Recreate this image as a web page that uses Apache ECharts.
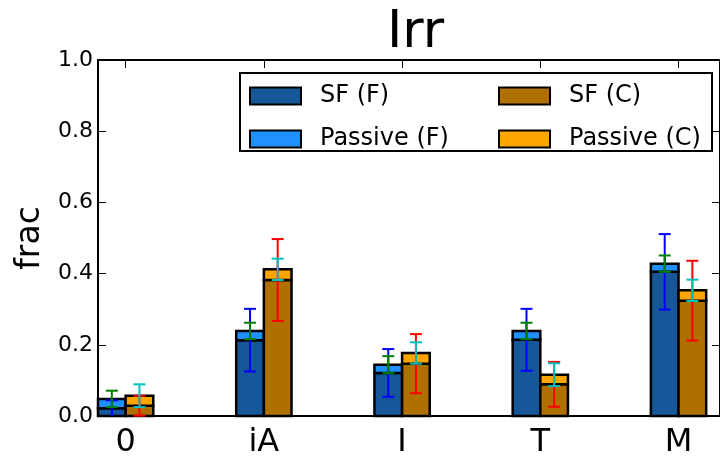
<!DOCTYPE html>
<html>
<head>
<meta charset="utf-8">
<script src="https://cdn.jsdelivr.net/npm/echarts@6/dist/echarts.min.js"></script>
<style>html,body{margin:0;padding:0;background:#fff}#c{width:720px;height:459px}</style>
</head>
<body>
<div id="c"></div>
<script>
const categories = ['0', 'iA', 'I', 'T', 'M'];
const sfF = [0.022, 0.213, 0.121, 0.214, 0.405];
const passiveF = [0.026, 0.026, 0.023, 0.025, 0.023];
const sfC = [0.029, 0.382, 0.147, 0.089, 0.324];
const passiveC = [0.028, 0.030, 0.030, 0.027, 0.029];
const errSfF = [0.022, 0.088, 0.067, 0.087, 0.106];
const errPassiveF = [0.023, 0.023, 0.024, 0.023, 0.023];
const errSfC = [0.028, 0.115, 0.083, 0.063, 0.112];
const errPassiveC = [0.032, 0.030, 0.030, 0.032, 0.030];
const yTicks = [0, 0.2, 0.4, 0.6, 0.8, 1.0];

const FONT = 'DejaVu Sans';
const colors = {sfF: '#155799', pF: '#1E90FF', sfC: '#B07000', pC: '#FFA500'};
const BW = 0.2;

function barSeries(name, vals, bases, off, color) {
  return {
    type: 'custom', name: name, xAxisIndex: 0, yAxisIndex: 0, z: 2,
    itemStyle: {color: color},
    data: vals.map((v, i) => [i, v, bases ? bases[i] : 0]),
    renderItem: function (params, api) {
      const x = api.value(0), v = api.value(1), b = api.value(2);
      const p1 = api.coord([x + off, b + v]);
      const p0 = api.coord([x + off + BW, b]);
      return {type: 'rect', shape: {x: p1[0], y: p1[1], width: p0[0] - p1[0], height: p0[1] - p1[1]},
        style: {fill: color, stroke: '#000', lineWidth: 2.5}};
    }
  };
}
function errSeries(centers, errs, off, color, z) {
  return {
    type: 'custom', xAxisIndex: 0, yAxisIndex: 0, z: z, silent: true,
    data: centers.map((c, i) => [i, c, errs[i]]),
    renderItem: function (params, api) {
      const x = api.value(0) + off, c = api.value(1), e = api.value(2);
      const top = api.coord([x, c + e]);
      const bot = api.coord([x, Math.max(0, c - e)]);
      const cw = 6;
      const st = {stroke: color, lineWidth: 2};
      const children = [
        {type: 'line', shape: {x1: top[0], y1: top[1], x2: bot[0], y2: bot[1]}, style: st},
        {type: 'line', shape: {x1: top[0] - cw, y1: top[1], x2: top[0] + cw, y2: top[1]}, style: st}
      ];
      if (c - e > 0) children.push({type: 'line', shape: {x1: bot[0] - cw, y1: bot[1], x2: bot[0] + cw, y2: bot[1]}, style: st});
      return {type: 'group', children: children};
    }
  };
}
const totF = sfF.map((v, i) => v + passiveF[i]);
const totC = sfC.map((v, i) => v + passiveC[i]);

const axisLineStyle = {show: true, onZero: false, lineStyle: {color: '#000', width: 2}};
const chart = echarts.init(document.getElementById('c'), null, {renderer: 'canvas'});
chart.setOption({
  animation: false,
  backgroundColor: '#fff',
  title: {text: 'Irr', left: 382, top: 2, textStyle: {fontFamily: FONT, fontSize: 52, fontWeight: 'normal', color: '#000'}},
  grid: {left: 98, top: 60, width: 625, height: 361, containLabel: false},
  xAxis: [
    {type: 'value', min: -0.2, max: 4.3, position: 'bottom',
     axisLine: axisLineStyle,
     axisTick: {show: true, inside: true, length: 8, customValues: categories.map((c, i) => i), lineStyle: {color: '#000', width: 1}},
     axisLabel: {show: true, customValues: categories.map((c, i) => i), formatter: v => categories[Math.round(v)], margin: 11,
       fontFamily: FONT, fontSize: 32, color: '#000'},
     splitLine: {show: false}},
    {type: 'value', min: -0.2, max: 4.3, position: 'top',
     axisLine: axisLineStyle,
     axisTick: {show: true, inside: true, length: 8, customValues: categories.map((c, i) => i), lineStyle: {color: '#000', width: 1}},
     axisLabel: {show: false}, splitLine: {show: false}}
  ],
  yAxis: [
    {type: 'value', min: 0, max: 1, interval: 0.2, position: 'left',
     name: 'frac', nameLocation: 'middle', nameGap: 43, nameRotate: 90,
     nameTextStyle: {fontFamily: FONT, fontSize: 33, color: '#000'},
     axisLine: axisLineStyle,
     axisTick: {show: true, inside: true, length: 8, customValues: yTicks, lineStyle: {color: '#000', width: 1}},
     axisLabel: {customValues: yTicks, formatter: v => v.toFixed(1), margin: 5, fontFamily: FONT, fontSize: 22, color: '#000'},
     splitLine: {show: false}},
    {type: 'value', min: 0, max: 1, interval: 0.2, position: 'right',
     axisLine: axisLineStyle,
     axisTick: {show: true, inside: true, length: 8, customValues: yTicks, lineStyle: {color: '#000', width: 1}},
     axisLabel: {show: false}, splitLine: {show: false}}
  ],
  legend: [
    {orient: 'vertical', left: 249, top: 84, z: 10, itemWidth: 51, itemHeight: 17, itemGap: 19, padding: 0, icon: 'rect',
     data: [
       {name: 'SF (F)', itemStyle: {color: colors.sfF, borderColor: '#000', borderWidth: 2}},
       {name: 'Passive (F)', itemStyle: {color: colors.pF, borderColor: '#000', borderWidth: 2}}
     ],
     textStyle: {fontFamily: FONT, fontSize: 24, color: '#000', lineHeight: 17, padding: [0, 0, 0, 14]}, selectedMode: false},
    {orient: 'vertical', left: 498, top: 84, z: 10, itemWidth: 51, itemHeight: 17, itemGap: 19, padding: 0, icon: 'rect',
     data: [
       {name: 'SF (C)', itemStyle: {color: colors.sfC, borderColor: '#000', borderWidth: 2}},
       {name: 'Passive (C)', itemStyle: {color: colors.pC, borderColor: '#000', borderWidth: 2}}
     ],
     textStyle: {fontFamily: FONT, fontSize: 24, color: '#000', lineHeight: 17, padding: [0, 0, 0, 14]}, selectedMode: false}
  ],
  graphic: [
    {type: 'rect', z: 5, shape: {x: 240, y: 73, width: 472, height: 78},
     style: {fill: '#fff', stroke: '#000', lineWidth: 2}}
  ],
  series: [
    barSeries('SF (F)', sfF, null, -BW, colors.sfF),
    barSeries('Passive (F)', passiveF, sfF, -BW, colors.pF),
    barSeries('SF (C)', sfC, null, 0, colors.sfC),
    barSeries('Passive (C)', passiveC, sfC, 0, colors.pC),
    errSeries(sfF, errSfF, -BW / 2, '#0000FF', 3),
    errSeries(totF, errPassiveF, -BW / 2, '#008000', 4),
    errSeries(sfC, errSfC, BW / 2, '#FF0000', 3),
    errSeries(totC, errPassiveC, BW / 2, '#00BFBF', 4)
  ]
});
</script>
</body>
</html>
